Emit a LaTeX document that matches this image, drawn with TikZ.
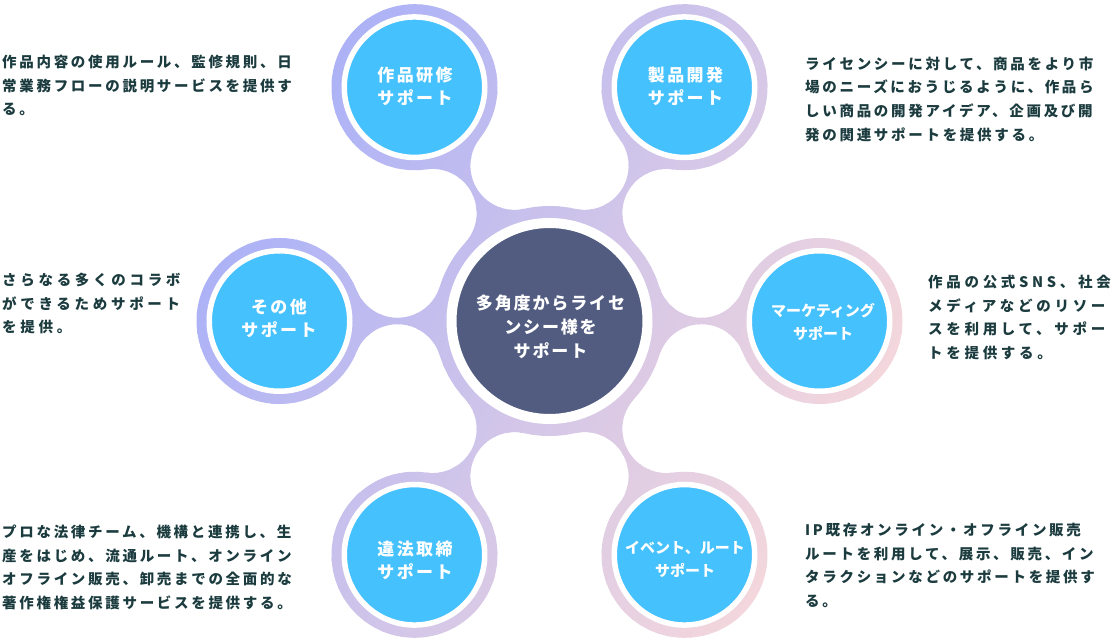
\documentclass[tikz,border=0pt]{standalone}
\usepackage{fontspec}
\setmainfont{Noto Sans CJK JP}
\newfontfamily\descfontA{Noto Sans CJK JP}[LetterSpace=18.6]
\newfontfamily\descfontB{Noto Sans CJK JP}[LetterSpace=25.5]
\newfontfamily\labfont{Noto Sans CJK JP}[LetterSpace=14]
\newfontfamily\cenfont{Noto Sans CJK JP}[LetterSpace=11]
\definecolor{descC}{RGB}{27,59,62}
\definecolor{satblue}{RGB}{69,193,253}
\definecolor{hubnavy}{RGB}{82,92,128}
\definecolor{ringA}{RGB}{172,178,247}
\definecolor{ringB}{RGB}{244,215,220}
\newcommand{\ringbands}{%
  \begin{scope}[shift={(549.5,321)}, rotate=-30]
    \foreach \i in {0,...,63}{%
      \pgfmathsetmacro\pct{(\i+0.5)/64*100}%
      \fill[ringB!\pct!ringA] (-320+10*\i,-460) rectangle (-308.5+10*\i,460);
    }
  \end{scope}}
\tikzset{
  desc/.style={anchor=north west, inner sep=0pt, align=left, text=descC,
    font=\descfontA\bfseries\fontsize{14.5}{23.6}\selectfont},
  descwide/.style={desc, font=\descfontB\bfseries\fontsize{14.5}{23.6}\selectfont},
  satdisc/.style={circle, inner sep=0pt, outer sep=0pt, minimum size=140.5pt,
    fill=satblue, draw=white, line width=5.5pt},
  hubdisc/.style={circle, inner sep=0pt, outer sep=0pt, minimum size=196pt,
    fill=hubnavy, draw=white, line width=10pt},
  satlabel/.style={text=white, align=center, inner sep=0pt,
    font=\labfont\bfseries\fontsize{17}{23}\selectfont},
  satlabelthin/.style={text=white, align=center, inner sep=0pt,
    font=\bfseries\fontsize{15}{23}\selectfont},
  hublabel/.style={text=white, align=center, inner sep=0pt,
    font=\cenfont\bfseries\fontsize{17}{24}\selectfont},
}
\begin{document}
\begin{tikzpicture}[x=1pt,y=-1pt]
\useasboundingbox (0,0) rectangle (1112,639);
% blob: necks
\foreach \a in {0,60,120,180,240,300}{
  \begin{scope}
    \clip[shift={(549.5,321)}, rotate=\a] (109.78,34.25)
      arc[start angle=197.34, end angle=338.1, radius=44.2]
      -- (192.98,-30.94)
      arc[start angle=21.9, end angle=162.66, radius=44.2] -- cycle;
    \ringbands
  \end{scope}
}
% blob: circles
\begin{scope}
  \clip (549.5,321) circle[radius=115];
  \ringbands
\end{scope}
\foreach \p in {(684.5,87.2),(414.5,87.2),(279.5,321),(414.5,554.8),(684.5,554.8),(819.5,321)}{
  \begin{scope}
    \clip \p circle[radius=83];
    \ringbands
  \end{scope}
}
% discs
\node[hubdisc] (hub) at (549.5,321) {};
\node[satdisc] (s1) at (684.5,87.2) {};
\node[satdisc] (s2) at (414.5,87.2) {};
\node[satdisc] (s3) at (279.5,321) {};
\node[satdisc] (s4) at (414.5,554.8) {};
\node[satdisc] (s5) at (684.5,554.8) {};
\node[satdisc] (s6) at (819.5,321) {};
% labels
\node[hublabel] (hubt) at (550.5,327) {多角度からライセ\\ンシー様を\\サポート};
\node[satlabel] (t1) at (685.5,86.7) {製品開発\\サポート};
\node[satlabel] (t2) at (415,86.5) {作品研修\\サポート};
\node[satlabel] (t3) at (279,318.5) {その他\\サポート};
\node[satlabel] (t4) at (415,560) {違法取締\\サポート};
\node[satlabelthin] (t5) at (685,559.5) {イベント、ルート\\サポート};
\node[satlabelthin] (t6) at (823,321.5) {マーケティング\\サポート};
% descriptions
\node[desc] (d2) at (2,55) {作品内容の使用ルール、監修規則、日\\常業務フローの説明サービスを提供す\\る。};
\node[desc] (d1) at (805,56.7) {ライセンシーに対して、商品をより市\\場のニーズにおうじるように、作品ら\\しい商品の開発アイデア、企画及び開\\発の関連サポートを提供する。};
\node[descwide] (d3) at (2,273) {さらなる多くのコラボ\\ができるためサポート\\を提供。};
\node[descwide] (d6) at (928,275) {作品の公式SNS、社会\\メディアなどのリソー\\スを利用して、サポー\\トを提供する。};
\node[desc] (d4) at (2,525) {プロな法律チーム、機構と連携し、生\\産をはじめ、流通ルート、オンライン\\オフライン販売、卸売までの全面的な\\著作権権益保護サービスを提供する。};
\node[desc] (d5) at (805,523) {IP既存オンライン・オフライン販売\\ルートを利用して、展示、販売、イン\\タラクションなどのサポートを提供す\\る。};
\end{tikzpicture}
\end{document}
